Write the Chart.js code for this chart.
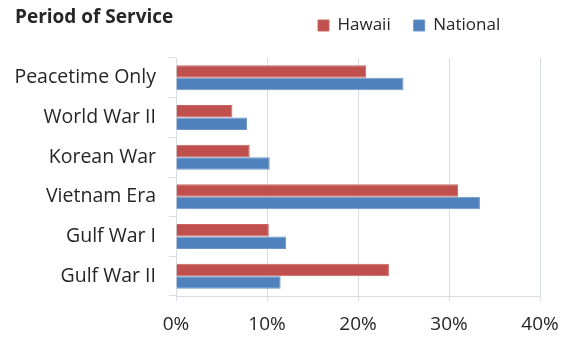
<!DOCTYPE html>
<html>
<head>
<meta charset="utf-8">
<script src="https://cdn.jsdelivr.net/npm/chart.js@4.4.1/dist/chart.umd.min.js"></script>
<style>
  html, body { margin: 0; padding: 0; background: #fff; }
  #wrap { position: relative; width: 563px; height: 337px; }
  #title {
    position: absolute; left: 15px; top: 3px;
    font: bold 19px "Open Sans", sans-serif; color: #262626;
  }
</style>
</head>
<body>
<div id="wrap">
  <div id="title">Period of Service</div>
  <canvas id="chart" width="563" height="337"></canvas>
</div>
<script>
// service periods, top to bottom
const categories = ['Peacetime Only', 'World War II', 'Korean War', 'Vietnam Era', 'Gulf War I', 'Gulf War II'];
// percent of veterans in each period
const hawaii = [20.9, 6.2, 8.1, 31.0, 10.2, 23.4];
const national = [25.0, 7.8, 10.3, 33.4, 12.1, 11.5];
const xTicks = [0, 10, 20, 30, 40];

const textColor = '#262626';
const lineColor = '#D9DEE6';
const fontFamily = '"Open Sans", sans-serif';

// move the legend up next to the title
const legendNudge = {
  id: 'legendNudge',
  afterLayout(chart) {
    const lg = chart.legend;
    lg.left += 295;
    lg.right += 295;
    lg.top -= 14;
    lg.bottom -= 14;
  }
};

const ctx = document.getElementById('chart').getContext('2d');
const chart = new Chart(ctx, {
  type: 'bar',
  data: {
    labels: categories,
    datasets: [{
      label: 'Hawaii',
      data: hawaii,
      backgroundColor: '#C0504D',
      borderColor: '#C96663',
      borderWidth: 1
    }, {
      label: 'National',
      data: national,
      backgroundColor: '#4F81BD',
      borderColor: '#6E95C7',
      borderWidth: 1
    }]
  },
  options: {
    indexAxis: 'y',
    responsive: false,
    animation: false,
    devicePixelRatio: 1,
    barPercentage: 1,
    categoryPercentage: 0.63,
    layout: { padding: { left: 0, right: 23, top: 8, bottom: 0 } },
    plugins: {
      title: { display: false },
      tooltip: { enabled: false },
      legend: {
        position: 'top',
        align: 'start',
        labels: {
          boxWidth: 11,
          boxHeight: 11,
          padding: 23,
          color: textColor,
          font: { family: fontFamily, size: 17 }
        }
      }
    },
    scales: {
      x: {
        min: xTicks[0],
        max: xTicks[xTicks.length - 1],
        afterBuildTicks: s => { s.ticks = xTicks.map(v => ({ value: v })); },
        afterFit: s => {
          s.height = 41;
          s.paddingLeft = 0;
          s.paddingRight = 0;
        },
        ticks: {
          callback: v => v + '%',
          color: textColor,
          padding: 12,
          font: { family: fontFamily, size: 19 }
        },
        grid: { color: lineColor, tickLength: 5 },
        border: { color: lineColor }
      },
      y: {
        afterFit: s => { s.width = 176; },
        ticks: {
          color: textColor,
          padding: 13,
          font: { family: fontFamily, size: 19.5 }
        },
        grid: { drawOnChartArea: false, color: lineColor, tickLength: 7, offset: true },
        border: { color: lineColor }
      }
    }
  },
  plugins: [legendNudge]
});
</script>
</body>
</html>
